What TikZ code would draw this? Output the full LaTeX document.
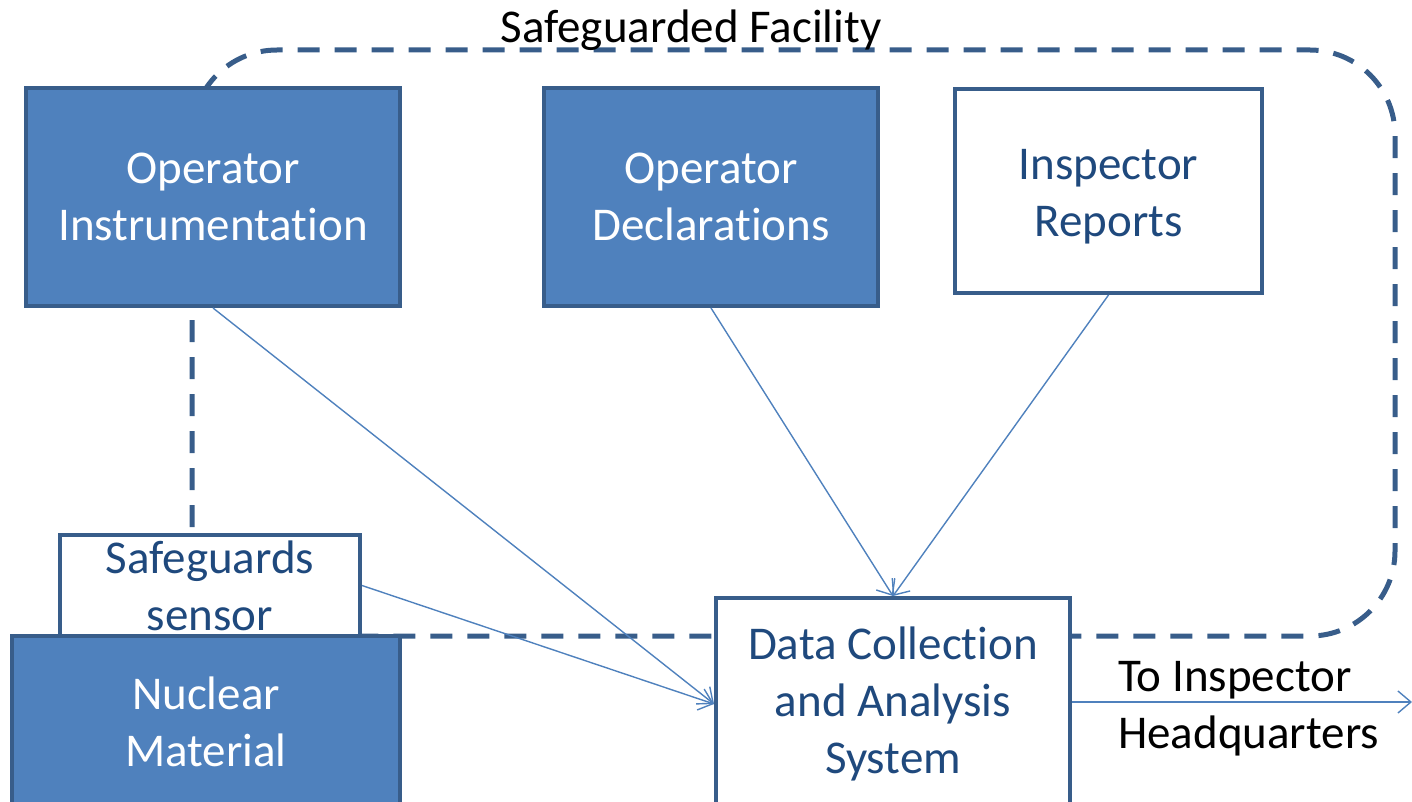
\documentclass[tikz,border=0pt]{standalone}
\usepackage{fontspec}
\setmainfont{Carlito}[Ligatures=NoCommon]
\usetikzlibrary{arrows.meta}
\definecolor{boxfill}{HTML}{4F81BD}
\definecolor{boxline}{HTML}{385D8A}
\definecolor{boxtext}{HTML}{1F497D}
\definecolor{flowline}{HTML}{4F81BD}
\tikzset{
  basebox/.style={draw=boxline, line width=4pt, inner sep=0pt, align=center,
    font=\fontsize{47}{57}\selectfont},
  bluebox/.style={basebox, fill=boxfill, text=white},
  whitebox/.style={basebox, fill=white, text=boxtext},
  flow/.style={draw=flowline, line width=1.4pt,
    -{Straight Barb[length=13pt, width=22pt, line width=1.4pt]}},
  frame/.style={draw=boxline, line width=5pt, dash pattern=on 22pt off 15pt,
    rounded corners=85pt},
  plain/.style={inner sep=0pt, font=\fontsize{47}{57}\selectfont, text=black}
}
\begin{document}
\begin{tikzpicture}[x=1pt, y=-1pt]
  \useasboundingbox (0,0) rectangle (1412,802);
  % facility boundary
  \draw[frame] (192,50) rectangle (1395,636);
  \node[plain] (title) at (691,30) {Safeguarded Facility};
  % boxes
  \node[bluebox, minimum width=374pt, minimum height=218pt] (oi) at (213,197) {Operator\\Instrumentation};
  \node[bluebox, minimum width=334pt, minimum height=218pt] (od) at (711,197) {Operator\\Declarations};
  \node[whitebox, minimum width=307pt, minimum height=204pt] (ir) at (1108.5,191) {\rule{0pt}{42pt}Inspector\\Reports};
  \node[whitebox, minimum width=300pt, minimum height=101pt] (ss) at (210,585.5) {Safeguards\\sensor};
  \node[bluebox, minimum width=388pt, minimum height=172pt] (nm) at (206,722) {Nuclear\\Material};
  \node[whitebox, minimum width=354pt, minimum height=212pt] (dc) at (893,704) {Data Collection\\and Analysis\\System};
  \node[plain, anchor=west, align=left] (hq) at (1118,709) {To Inspector\\Headquarters};
  \coordinate (out) at (1412,702);
  % data flows
  \draw[flow] (oi.south) -- (dc.west);
  \draw[flow] (ss.east) -- (dc.west);
  \draw[flow] (od.south) -- (dc.north);
  \draw[flow] (ir.south) -- (dc.north);
  \draw[flow] (dc.east |- out) -- (out);
\end{tikzpicture}
\end{document}
